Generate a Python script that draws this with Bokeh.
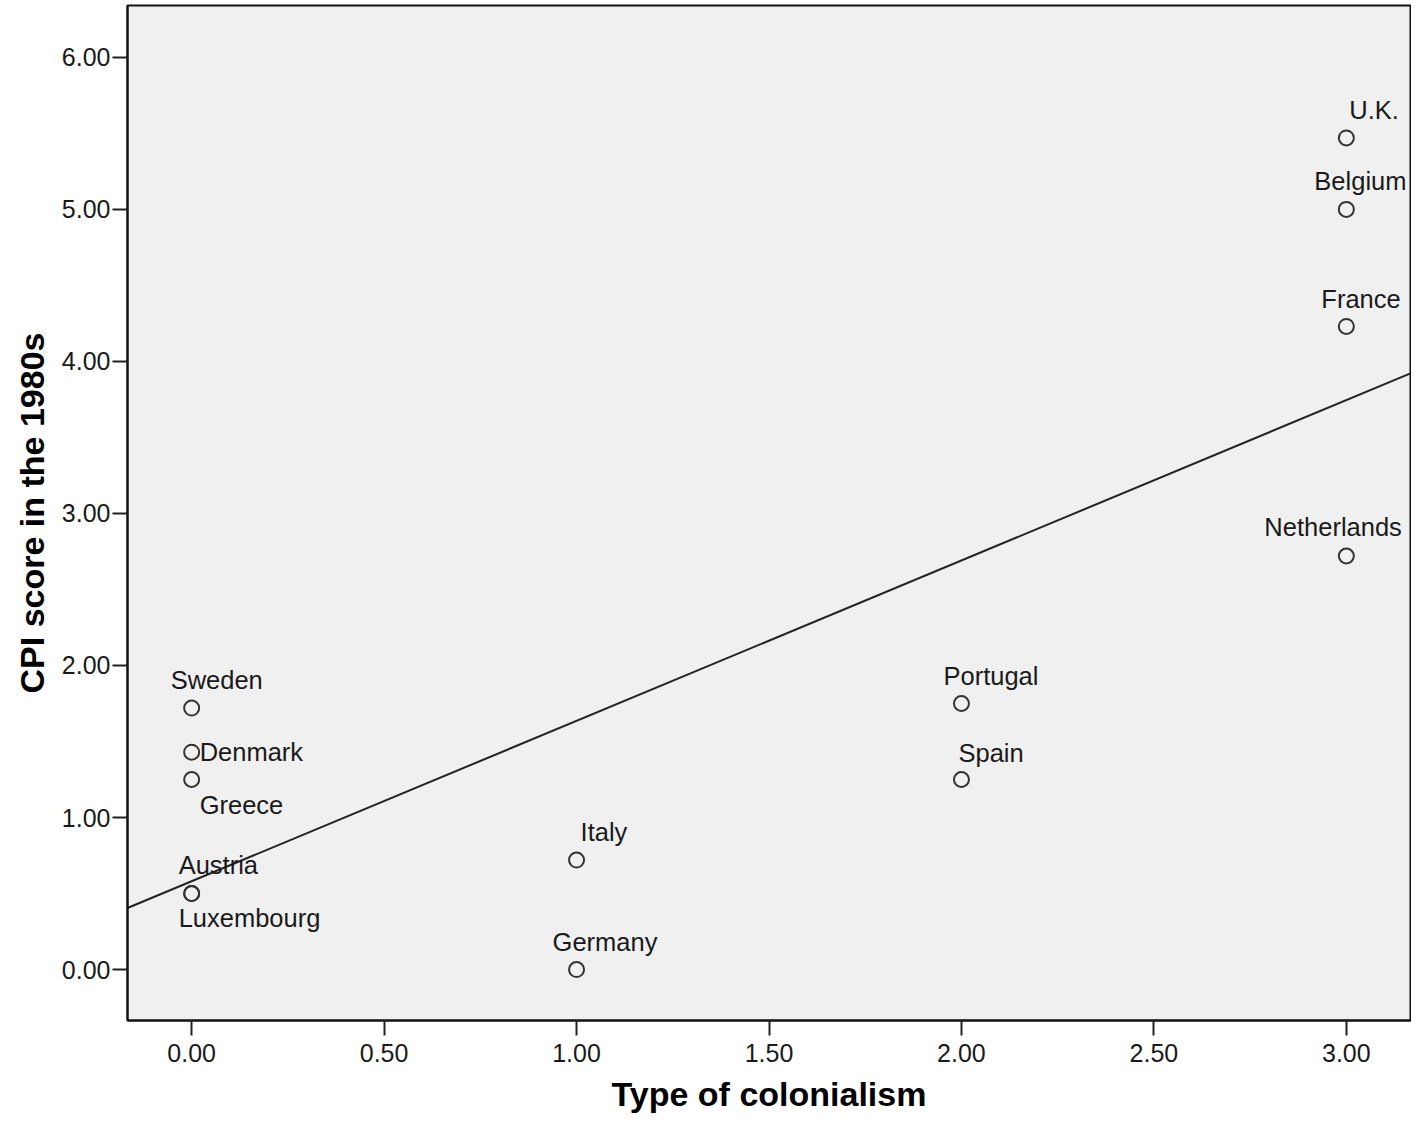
import numpy as np
from bokeh.plotting import figure
from bokeh.models import ColumnDataSource, Range1d, FixedTicker, CustomJSTickFormatter
from bokeh.core.properties import value
from bokeh.embed import file_html
from bokeh.resources import INLINE

# ---- data ----
countries = ["U.K.", "Belgium", "France", "Netherlands", "Portugal", "Spain",
             "Sweden", "Denmark", "Greece", "Austria", "Luxembourg", "Italy", "Germany"]
colonialism = [3, 3, 3, 3, 2, 2, 0, 0, 0, 0, 0, 1, 1]
cpi_1980s = [5.47, 5.00, 4.23, 2.72, 1.75, 1.25, 1.72, 1.43, 1.25, 0.50, 0.50, 0.72, 0.00]
x_ticks = [0.0, 0.5, 1.0, 1.5, 2.0, 2.5, 3.0]
y_ticks = [0.0, 1.0, 2.0, 3.0, 4.0, 5.0, 6.0]

# ---- label placement (screen px offsets relative to each point) ----
label_dx = [3, -32, -25, -82, -18, -3, -21, 8, 8, -13, -13, 4, -24]
label_dy = [-28, -28, -27, -29, -28, -27, -28, 0, 25, -29, 24, -28, -28]

X_LO, X_HI = -1 / 6, 3 + 1 / 6
Y_LO, Y_HI = -0.335, 6.341

FONT = "Liberation Sans"
TXT = "#1a1a1a"

p = figure(width=1411, height=1115, output_backend="svg", toolbar_location=None,
           x_range=Range1d(X_LO, X_HI), y_range=Range1d(Y_LO, Y_HI),
           min_border_left=127, min_border_right=1, min_border_top=5, min_border_bottom=94,
           background_fill_color="#f0f0f0", border_fill_color="white",
           outline_line_color="#111111", outline_line_width=2)

p.xgrid.visible = False
p.ygrid.visible = False

fmt = CustomJSTickFormatter(code="return tick.toFixed(2);")
for ax, ticks in ((p.xaxis[0], x_ticks), (p.yaxis[0], y_ticks)):
    ax.ticker = FixedTicker(ticks=ticks)
    ax.formatter = fmt
    ax.minor_tick_line_color = None
    ax.major_tick_in = 0
    ax.major_tick_out = 15
    ax.major_tick_line_width = 2
    ax.major_tick_line_color = "#222222"
    ax.axis_line_color = "#111111"
    ax.axis_line_width = 2
    ax.major_label_text_font = FONT
    ax.major_label_text_font_size = "25px"
    ax.major_label_text_color = TXT
    ax.axis_label_text_font = FONT
    ax.axis_label_text_font_style = "bold"
    ax.axis_label_text_font_size = "34px"
    ax.axis_label_text_color = "#000000"

p.xaxis.axis_label = "Type of colonialism"
p.yaxis.axis_label = "CPI score in the 1980s"
p.xaxis.major_label_standoff = 8
p.xaxis.axis_label_standoff = 10
p.yaxis.major_label_standoff = 2
p.yaxis.axis_label_standoff = 8

# regression line (least squares fit from the data)
slope, intercept = np.polyfit(colonialism, cpi_1980s, 1)
xs = [X_LO, X_HI]
p.line(xs, [intercept + slope * x for x in xs], line_color="#222222", line_width=2)

src = ColumnDataSource(dict(x=colonialism, y=cpi_1980s, name=countries,
                            dx=label_dx, dy=label_dy))
p.scatter("x", "y", source=src, marker="circle", size=15, fill_color=None,
          line_color="#333333", line_width=2)
p.text("x", "y", text="name", source=src, x_offset="dx", y_offset="dy",
       text_font=value(FONT), text_font_size="25.5px", text_color=TXT,
       text_align="left", text_baseline="middle")

open("out.html", "w").write(file_html(p, INLINE))
